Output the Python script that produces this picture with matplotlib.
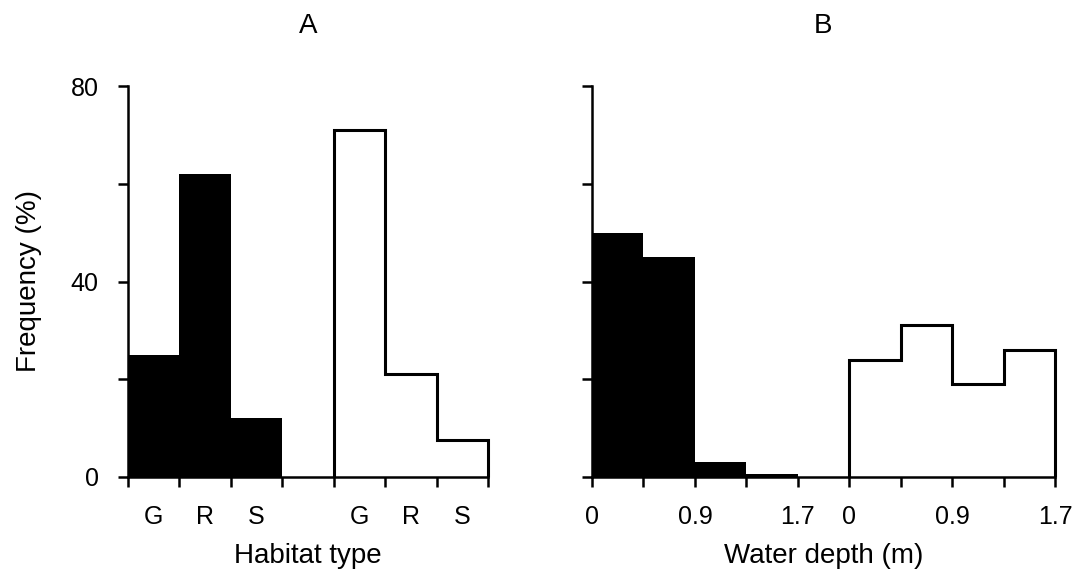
import numpy as np
import matplotlib
matplotlib.use("Agg")
from matplotlib import pyplot as plt

plt.rcParams['font.family'] = ['Liberation Sans', 'DejaVu Sans']

# panel A: habitat type frequencies (%)
habitat_labels = ['G', 'R', 'S']
habitat_black = [25, 62, 12]
habitat_white = [71, 21, 7.5]

# panel B: water depth frequencies (%)
depth_black = [50, 45, 3, 0.7]
depth_white = [24, 31, 19, 26]
depth_ticklabels = ['0', '', '0.9', '', '1.7', '0', '', '0.9', '', '1.7']

fig = plt.figure(figsize=(10.74, 5.85), dpi=100)
axA = fig.add_axes([128 / 1074, 1 - 477 / 585, 360 / 1074, 391 / 585])
axB = fig.add_axes([592 / 1074, 1 - 477 / 585, 463 / 1074, 391 / 585])

FS = 18
LFS = 20
LW = 1.8


def style(ax, xmax):
    ax.set_xlim(0, xmax)
    ax.set_ylim(0, 80)
    for s in ['top', 'right']:
        ax.spines[s].set_visible(False)
    for s in ['left', 'bottom']:
        ax.spines[s].set_linewidth(LW)
    ax.set_yticks([0, 20, 40, 60, 80])
    ax.tick_params(axis='both', which='major', direction='out', length=7,
                   width=LW, labelsize=FS)
    ax.tick_params(axis='x', which='major', pad=13)
    ax.tick_params(axis='y', which='major', pad=14)


# panel A
nA = len(habitat_black)
edges_black = np.arange(nA + 1)
edges_white = np.arange(nA + 1) + nA + 1
axA.stairs(habitat_black, edges_black, fill=True, color='black')
axA.stairs(habitat_white, edges_white, fill=False, color='black',
           linewidth=2.2, clip_on=False)
style(axA, 2 * nA + 1)
axA.set_yticklabels(['0', '', '40', '', '80'])
axA.set_xticks(np.arange(2 * nA + 2))
axA.set_xticklabels([])
centers = list(edges_black[:-1] + 0.5) + list(edges_white[:-1] + 0.5)
axA.set_xticks(centers, minor=True)
axA.set_xticklabels(habitat_labels * 2, minor=True)
axA.tick_params(axis='x', which='minor', length=0, pad=20, labelsize=FS)
axA.set_title('A', fontsize=LFS, pad=38)
axA.set_xlabel('Habitat type', fontsize=LFS)
axA.xaxis.set_label_coords(0.5, -0.17)
axA.set_ylabel('Frequency (%)', fontsize=LFS)
axA.yaxis.set_label_coords(-0.24, 0.5)

# panel B
nB = len(depth_black)
edges_black = np.arange(nB + 1)
edges_white = np.arange(nB + 1) + nB + 1
axB.stairs(depth_black, edges_black, fill=True, color='black')
axB.stairs(depth_white, edges_white, fill=False, color='black',
           linewidth=2.2, clip_on=False)
style(axB, 2 * nB + 1)
axB.set_yticklabels([])
axB.set_xticks(np.arange(2 * nB + 2))
axB.set_xticklabels(depth_ticklabels)
axB.set_title('B', fontsize=LFS, pad=38)
axB.set_xlabel('Water depth (m)', fontsize=LFS)
axB.xaxis.set_label_coords(0.5, -0.17)

fig.savefig('out.png', dpi=100)
